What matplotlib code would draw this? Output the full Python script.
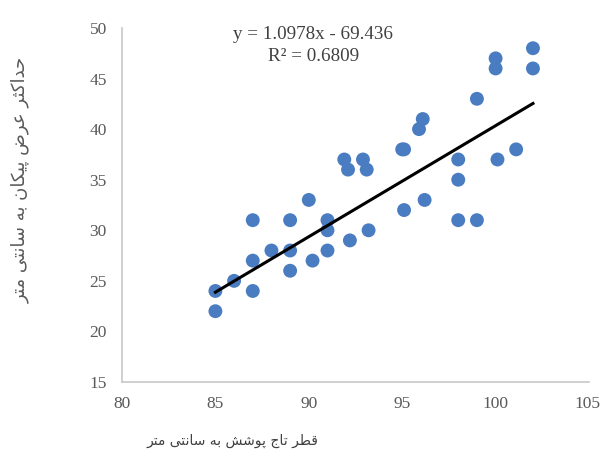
import matplotlib
matplotlib.use("Agg")
import matplotlib.pyplot as plt
from matplotlib.transforms import ScaledTranslation
import numpy as np

# Crown diameter (cm) vs maximum arrowhead width (cm)
crown_diameter = [85, 85, 86, 87, 87, 87, 88, 89, 89, 89, 90, 90.2, 91, 91, 91,
                  91.9, 92.1, 92.2, 92.9, 93.1, 93.2, 95, 95.1, 95.1, 95.9, 96.1, 96.2,
                  98, 98, 98, 99, 99, 100, 100, 100.1, 101.1, 102, 102]
max_width = [24, 22, 25, 27, 31, 24, 28, 31, 28, 26, 33, 27, 31, 30, 28,
             37, 36, 29, 37, 36, 30, 38, 38, 32, 40, 41, 33,
             37, 35, 31, 31, 43, 47, 46, 37, 38, 48, 46]

slope = 1.0978
intercept = -69.436
r_squared = 0.6809

x_ticks = [80, 85, 90, 95, 100, 105]
y_ticks = [15, 20, 25, 30, 35, 40, 45, 50]

x_label = "قطر تاج پوشش به سانتی متر"
y_label = "حداکثر عرض پیکان به سانتی متر"

# --- minimal Persian shaping (presentation forms) for a renderer without bidi ---
FORMS = {
    # isolated, final, initial, medial
    "\u0627": ("\uFE8D", "\uFE8E", None, None),
    "\u0628": ("\uFE8F", "\uFE90", "\uFE91", "\uFE92"),
    "\u067E": ("\uFB56", "\uFB57", "\uFB58", "\uFB59"),
    "\u062A": ("\uFE95", "\uFE96", "\uFE97", "\uFE98"),
    "\u062B": ("\uFE99", "\uFE9A", "\uFE9B", "\uFE9C"),
    "\u062C": ("\uFE9D", "\uFE9E", "\uFE9F", "\uFEA0"),
    "\u062D": ("\uFEA1", "\uFEA2", "\uFEA3", "\uFEA4"),
    "\u062F": ("\uFEA9", "\uFEAA", None, None),
    "\u0631": ("\uFEAD", "\uFEAE", None, None),
    "\u0633": ("\uFEB1", "\uFEB2", "\uFEB3", "\uFEB4"),
    "\u0634": ("\uFEB5", "\uFEB6", "\uFEB7", "\uFEB8"),
    "\u0636": ("\uFEBD", "\uFEBE", "\uFEBF", "\uFEC0"),
    "\u0637": ("\uFEC1", "\uFEC2", "\uFEC3", "\uFEC4"),
    "\u0639": ("\uFEC9", "\uFECA", "\uFECB", "\uFECC"),
    "\u0642": ("\uFED5", "\uFED6", "\uFED7", "\uFED8"),
    "\u06A9": ("\uFB8E", "\uFB8F", "\uFB90", "\uFB91"),
    "\u0645": ("\uFEE1", "\uFEE2", "\uFEE3", "\uFEE4"),
    "\u0646": ("\uFEE5", "\uFEE6", "\uFEE7", "\uFEE8"),
    "\u0647": ("\uFEE9", "\uFEEA", "\uFEEB", "\uFEEC"),
    "\u0648": ("\uFEED", "\uFEEE", None, None),
    "\u06CC": ("\uFBFC", "\uFBFD", "\uFBFE", "\uFBFF"),
}


def shape_persian(text):
    out = []
    n = len(text)
    for i, ch in enumerate(text):
        if ch not in FORMS:
            out.append(ch)
            continue
        prev = text[i - 1] if i > 0 else None
        nxt = text[i + 1] if i < n - 1 else None
        joins_prev = prev in FORMS and FORMS[prev][2] is not None
        joins_next = nxt in FORMS and FORMS[ch][2] is not None
        iso, fin, ini, med = FORMS[ch]
        if joins_prev and joins_next:
            out.append(med)
        elif joins_prev:
            out.append(fin)
        elif joins_next:
            out.append(ini)
        else:
            out.append(iso)
    return "".join(reversed(out))


fig = plt.figure(figsize=(6.01, 4.65), dpi=100)
ax = fig.add_axes([122 / 601, 1 - 382 / 465, (589 - 122) / 601, (382 - 28) / 465])

ax.scatter(crown_diameter, max_width, s=100, color="#4A7CC1", edgecolors="none", zorder=3)

x_line = np.array([min(crown_diameter), max(crown_diameter)])
ax.plot(x_line, slope * x_line + intercept, color="black", linewidth=2.2, zorder=4)

ax.set_xlim(80, 105)
ax.set_ylim(15, 50)
ax.set_xticks(x_ticks)
ax.set_yticks(y_ticks)

tick_font = {"family": "Liberation Serif", "size": 12.5}
ax.set_xticklabels([str(t) for t in x_ticks], fontdict=tick_font, color="#595959")
ax.set_yticklabels([str(t) for t in y_ticks], fontdict=tick_font, color="#595959")
ax.tick_params(axis="x", length=0, pad=10)
ax.tick_params(axis="y", length=0, pad=11)

# keep the last x tick label inside the canvas
last = ax.get_xticklabels()[-1]
last.set_horizontalalignment("right")
last.set_transform(last.get_transform() + ScaledTranslation(11 / 100, 0, fig.dpi_scale_trans))

for side in ("top", "right"):
    ax.spines[side].set_visible(False)
for side in ("left", "bottom"):
    ax.spines[side].set_color("#C8C8C8")
    ax.spines[side].set_linewidth(1.2)

ax.text(0.41, 0.95, f"y = {slope:.4f}x - {abs(intercept):.3f}\nR² = {r_squared:.4f}",
        transform=ax.transAxes, ha="center", va="center", linespacing=1.35,
        family="Liberation Serif", size=13.7, color="#404040")

ax.set_xlabel(shape_persian(x_label), family=["DejaVu Sans"], size=10,
              color="#404040")
ax.xaxis.set_label_coords(0.237, -0.145)
ax.set_ylabel(shape_persian(y_label), family=["DejaVu Sans"], size=13,
              color="#5A5A5A")
ax.yaxis.set_label_coords(-0.197, 0.571)

fig.savefig("out.png", dpi=100, facecolor="white")
